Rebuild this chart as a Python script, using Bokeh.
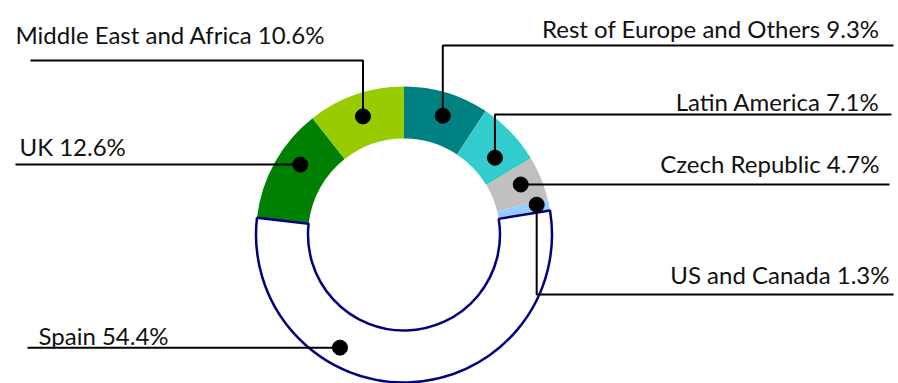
import math
from bokeh.plotting import figure
from bokeh.models import Range1d, ColumnDataSource
from bokeh.core.properties import value
from bokeh.embed import file_html
from bokeh.resources import INLINE

# ---- data (clockwise from 12 o'clock) ----
regions = ["Rest of Europe and Others", "Latin America", "Czech Republic",
           "US and Canada", "Spain", "UK", "Middle East and Africa"]
shares = [9.3, 7.1, 4.7, 1.3, 54.4, 12.6, 10.6]
colors = ["#008080", "#33CCCC", "#C0C0C0", "#99CCFF", "#FFFFFF", "#008000", "#99CC00"]

# ---- layout ----
W, H = 898, 383
CX, CY = 403.5, H - 234
R_OUT, R_IN = 148, 96
# where the leader dot sits inside each segment (fraction of arc, radius)
dot_frac = [0.54, 0.64, 0.46, 0.29, 0.658, 0.607, 0.498]
dot_rad = [125, 119, 127, 136, 130, 125, 125]
# label placement: (x, baseline_y in screen px, align)
label_pos = [(879, 28, "right"), (879, 101, "right"), (879, 163, "right"),
             (889, 274, "right"), (38, 335, "left"), (19, 146, "left"),
             (15, 34, "left")]
# leader path after the dot: list of (kind, value)
# 'v' -> go vertically to screen y, 'h' -> go horizontally to screen x
leader = [[("v", 45), ("h", 893)],
          [("v", 114), ("h", 891)],
          [("h", 889)],
          [("v", 294), ("h", 893)],
          [("h", 27)],
          [("h", 15)],
          [("v", 60), ("h", 30)]]


def Y(py):
    return H - py


p = figure(width=W, height=H, x_range=Range1d(0, W), y_range=Range1d(0, H),
           min_border=0, toolbar_location=None, output_backend="svg")
p.axis.visible = False
p.grid.visible = False
p.outline_line_color = None
p.background_fill_color = "white"
p.border_fill_color = "white"

total = sum(shares)
start = 90.0
starts, ends = [], []
for s in shares:
    end = start - s / total * 360.0
    starts.append(math.radians(start))
    ends.append(math.radians(end))
    start = end

line_colors = [None] * len(shares)
line_colors[regions.index("Spain")] = "#000080"
for i in range(len(shares)):
    if line_colors[i] is None:
        p.annular_wedge(x=CX, y=CY, inner_radius=R_IN, outer_radius=R_OUT,
                        start_angle=starts[i], end_angle=ends[i], direction="clock",
                        fill_color=colors[i], line_color=None)
i = regions.index("Spain")
p.annular_wedge(x=CX, y=CY, inner_radius=R_IN, outer_radius=R_OUT,
                start_angle=starts[i], end_angle=ends[i], direction="clock",
                fill_color=colors[i], line_color="#000080", line_width=2.5)

dx, dy, xs, ys = [], [], [], []
for i in range(len(shares)):
    a = starts[i] + (ends[i] - starts[i]) * dot_frac[i]
    x0 = CX + dot_rad[i] * math.cos(a)
    y0 = CY + dot_rad[i] * math.sin(a)
    dx.append(x0)
    dy.append(y0)
    px, py = [x0], [y0]
    cx, cy = x0, y0
    for kind, v in leader[i]:
        if kind == "v":
            cy = Y(v)
        else:
            cx = v
        px.append(cx)
        py.append(cy)
    xs.append(px)
    ys.append(py)

p.multi_line(xs=xs, ys=ys, line_color="black", line_width=2)
p.scatter(x=dx, y=dy, size=15, fill_color="black", line_color="black")

labels = [f"{r} {s}%" for r, s in zip(regions, shares)]
for i, lab in enumerate(labels):
    lx, ly, al = label_pos[i]
    p.text(x=[lx], y=[Y(ly)], text=[lab], text_align=al, text_baseline="alphabetic",
           text_font=value("Lato"), text_font_size="24px", text_color="#111111")

open("out.html", "w").write(file_html(p, INLINE))
